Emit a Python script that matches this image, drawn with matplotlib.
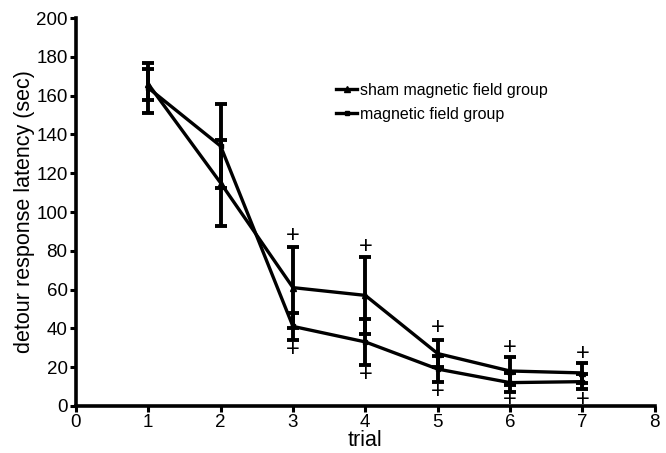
import matplotlib
matplotlib.use("Agg")
import matplotlib.pyplot as plt
from matplotlib.lines import Line2D

plt.rcParams['font.family'] = ['Liberation Sans', 'DejaVu Sans']

trials = [1, 2, 3, 4, 5, 6, 7]
sham_mean = [166, 115, 61, 57, 27, 18, 17]
sham_err = [8, 22, 21, 20, 7, 7, 5]
mag_mean = [164, 134, 41, 33, 19, 12, 12.5]
mag_err = [13, 21.5, 7, 12, 6.5, 5, 4]

plus_trials = [3, 4, 5, 6, 7]
plus_upper = [87.6, 82, 40, 30, 27]
plus_lower = [29, 16, 7.4, 3, 3]

xticks = [0, 1, 2, 3, 4, 5, 6, 7, 8]
yticks = [0, 20, 40, 60, 80, 100, 120, 140, 160, 180, 200]

fig = plt.figure(figsize=(6.66, 4.53), dpi=100)
ax = fig.add_axes([0.114, 0.104, 0.869, 0.856])

ax.errorbar(trials, sham_mean, yerr=sham_err, color='black', lw=2.4,
            elinewidth=2.8, capsize=4, capthick=2.8, marker='^', ms=4)
ax.errorbar(trials, mag_mean, yerr=mag_err, color='black', lw=2.4,
            elinewidth=2.8, capsize=4, capthick=2.8, marker='s', ms=3.5)

for t, u, l in zip(plus_trials, plus_upper, plus_lower):
    ax.text(t, u, '+', ha='center', va='center', fontsize=17)
    ax.text(t, l, '+', ha='center', va='center', fontsize=17)

ax.set_xlim(0, 8)
ax.set_ylim(0, 200)
ax.set_xticks(xticks)
ax.set_yticks(yticks)
ax.tick_params(labelsize=13.5, width=2.2, length=4, direction='out', pad=2)
for s in ['top', 'right']:
    ax.spines[s].set_visible(False)
for s in ['left', 'bottom']:
    ax.spines[s].set_linewidth(2.6)
ax.set_xlabel('trial', fontsize=15.5, labelpad=-1)
ax.set_ylabel('detour response latency (sec)', fontsize=15.5, labelpad=1)

handles = [Line2D([], [], color='black', lw=2.4, marker='^', ms=4),
           Line2D([], [], color='black', lw=2.4, marker='s', ms=3.5)]
labels = ['sham magnetic field group', 'magnetic field group']
ax.legend(handles, labels, loc='upper left', bbox_to_anchor=(0.425, 0.87),
          frameon=False, fontsize=11.5, handlelength=1.3, handletextpad=0.2,
          labelspacing=0.55)

fig.savefig('out.png', dpi=100)
